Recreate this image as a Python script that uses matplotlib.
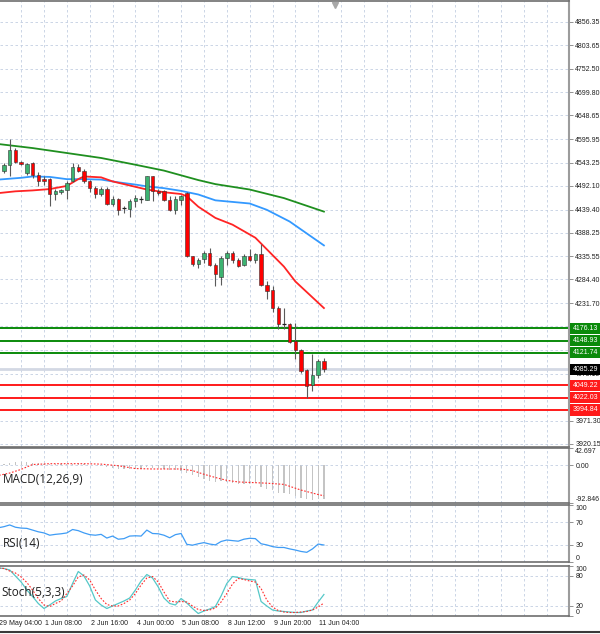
import numpy as np
import matplotlib
matplotlib.use('Agg')
import matplotlib.pyplot as plt
import matplotlib.transforms as mtrans
from matplotlib.lines import Line2D

plt.rcParams['font.family'] = 'Liberation Sans'

# 4H candles (bar 0 = first full bar on the left)
opens = [4524, 4539, 4572, 4546, 4520, 4543, 4517, 4508, 4507, 4475,
         4479, 4484, 4502, 4535, 4526, 4502, 4487, 4475, 4485, 4452,
         4463, 4443, 4441, 4458, 4464, 4461, 4513, 4481, 4480, 4461,
         4439, 4460, 4476, 4336, 4319, 4330, 4343, 4317, 4291, 4332,
         4343, 4327, 4317, 4336, 4327, 4340, 4273, 4260, 4222, 4186,
         4186, 4147, 4129, 4083, 4050, 4072, 4104]
highs = [4543, 4596, 4577, 4548, 4543, 4545, 4522, 4513, 4510, 4485,
         4486, 4502, 4543, 4541, 4529, 4506, 4491, 4490, 4490, 4469,
         4465, 4448, 4463, 4472, 4469, 4515, 4515, 4485, 4483, 4469,
         4469, 4472, 4478, 4337, 4332, 4347, 4354, 4321, 4336, 4347,
         4347, 4332, 4340, 4352, 4343, 4364, 4280, 4269, 4225, 4222,
         4187, 4188, 4131, 4085, 4118, 4108, 4110]
lows = [4521, 4513, 4543, 4539, 4517, 4510, 4491, 4495, 4448, 4461,
        4475, 4463, 4500, 4522, 4498, 4478, 4465, 4469, 4450, 4448,
        4428, 4433, 4423, 4445, 4455, 4460, 4458, 4472, 4458, 4436,
        4430, 4450, 4334, 4314, 4310, 4322, 4314, 4269, 4273, 4317,
        4322, 4312, 4315, 4325, 4322, 4269, 4240, 4212, 4174, 4174,
        4144, 4107, 4078, 4022, 4037, 4066, 4080]
closes = [4539, 4572, 4546, 4541, 4540, 4517, 4502, 4502, 4475, 4481,
          4484, 4498, 4535, 4526, 4502, 4487, 4475, 4485, 4452, 4463,
          4439, 4442, 4458, 4465, 4463, 4513, 4480, 4476, 4461, 4439,
          4463, 4470, 4336, 4319, 4328, 4343, 4317, 4297, 4332, 4343,
          4327, 4315, 4336, 4327, 4340, 4273, 4258, 4222, 4185, 4186,
          4146, 4129, 4081, 4047, 4072, 4104, 4085.29]

# moving averages (bar index, price)
ma_fast_idx = [-1, 2, 5, 8, 11, 13, 14, 17, 19, 23, 25, 28, 31, 32, 34, 37, 40, 44, 49, 51, 56]
ma_fast = [4476, 4480, 4482, 4485, 4492, 4507, 4513, 4511, 4502, 4490, 4484, 4478, 4474,
           4469, 4446, 4421, 4406, 4377, 4313, 4280, 4221]
ma_mid_idx = [-1, 3, 5, 8, 11, 14, 17, 20, 23, 25, 28, 31, 34, 37, 43, 46, 50, 56]
ma_mid = [4506, 4510, 4513, 4512, 4507, 4507, 4506, 4500, 4495, 4491, 4487, 4481, 4473,
          4460, 4453, 4439, 4413, 4360]
ma_slow_idx = [-1, 5, 11, 17, 23, 28, 34, 37, 43, 49, 56]
ma_slow = [4585, 4576, 4565, 4554, 4539, 4526, 4505, 4496, 4484, 4465, 4435]

price_ticks = [4856.35, 4803.65, 4752.50, 4699.80, 4648.65, 4595.95, 4543.25, 4492.10,
               4439.40, 4388.25, 4335.55, 4284.40, 4231.70, 4180.55, 4127.85, 4075.15,
               4024.00, 3971.30, 3920.15]
# tick labels that sit under the level boxes
hidden_ticks = [4180.55, 4127.85, 4024.00]
levels_green = [4176.13, 4148.93, 4121.74]
levels_red = [4049.22, 4022.03, 3994.84]
last_price = 4085.29

# MACD(12,26,9): main histogram per bar, signal line sampled
macd_main = [4, 6, 8, 8, 7, 6, 5, 4, 3, 3, 3, 3, 4, 5, 4, 2, 0, -1, -4, -7,
             -8, -9, -9, -8, -8, -4, -6, -7, -9, -11, -12, -13, -20, -25, -29, -33, -39, -41, -39, -41,
             -44, -45, -45, -45, -44, -54, -58, -62, -67, -69, -71, -75, -80, -84, -85, -84, -82]
macd_sig_idx = [-1, 1, 3, 5, 8, 11, 14, 17, 20, 23, 26, 29, 31, 33, 35, 37, 39, 41, 46, 49, 52, 55, 56]
macd_sig = [-25, -19, -10, 2, 4, 4, 4, 3, -1, -8, -9, -9, -9, -13, -22, -30, -37, -41, -44, -47,
            -61, -72, -75]
macd_top, macd_bot = 42.697, -92.846

# RSI(14), bars -1..56
rsi = [60, 62, 65, 61, 59.5, 59, 56, 53, 51, 47, 48.5, 49.5, 51, 57, 55, 51, 48, 47, 48.5, 42,
       45.5, 40, 41, 45.5, 46, 45.5, 56, 50, 49.5, 47, 42.5, 48, 50, 31, 29.5, 32, 34, 31.5, 30,
       36, 38.6, 37.5, 36.5, 40, 41.6, 41, 32, 30, 27, 25.5, 25.5, 23, 21, 18.5, 17, 23, 31.5, 29.8]

# Stoch(5,3,3), bars -1..56
sto_main = [96, 95, 92, 80, 68, 52, 39, 25, 15, 22, 30, 35, 39, 65, 89, 80, 60, 32, 22, 15,
            20, 25, 30, 36, 52, 70, 83, 76, 58, 36, 25, 22, 35, 26, 15, 5, 10, 14, 19, 40,
            65, 79, 77, 74, 73, 72, 29, 20, 12, 10, 9, 8, 7, 7, 10, 12, 28, 43]
sto_sig = [96, 95, 90, 86, 78, 67, 52, 35, 22, 19, 25, 30, 45, 60, 78, 82, 72, 52, 35, 23,
           20, 20, 25, 32, 45, 62, 76, 79, 68, 48, 30, 28, 29, 28, 20, 13, 11, 12, 16, 28,
           45, 64, 75, 73, 70, 68, 55, 32, 18, 11, 8, 7, 7, 8, 9, 12, 18, 26]

time_labels = ['29 May 04:00', '1 Jun 08:00', '2 Jun 16:00', '4 Jun 00:00',
               '5 Jun 08:00', '8 Jun 12:00', '9 Jun 20:00', '11 Jun 04:00']
time_label_idx = [-1, 7, 15, 23, 31, 39, 47, 55]

n = len(closes)
idx = np.arange(n)
ind_idx = np.arange(-1, n)

H = 634
W_AX = 569 / 600
fig = plt.figure(figsize=(6, 6.34), dpi=100)


def panel(top_px, bot_px):
    return fig.add_axes([0, (H - bot_px) / H, W_AX, (bot_px - top_px) / H])


ax = panel(1, 447)
ax_macd = panel(448, 503)
ax_rsi = panel(505, 562)
ax_sto = panel(566, 616)

grid_kw = dict(color='#c3cee2', linestyle=(0, (3, 3)), linewidth=0.6)
vgrid = np.arange(3, 99, 4)

for a in [ax, ax_macd, ax_rsi, ax_sto]:
    a.set_xlim(-0.7, 98.9)
    a.yaxis.tick_right()
    a.tick_params(axis='y', direction='out', length=3, width=0.6, color='#808080',
                  labelsize=5, pad=1.5, labelcolor='#202020')
    a.set_xticks(vgrid)
    a.tick_params(axis='x', which='major', length=0, labelbottom=False)
    a.grid(True, axis='both', which='major', **grid_kw)
    a.set_axisbelow(True)
    a.spines['left'].set_visible(False)
    a.spines['right'].set_color('#9c9c9c')
    a.spines['right'].set_linewidth(1.5)
    for s in ['top', 'bottom']:
        a.spines[s].set_color('#6e6e6e')
        a.spines[s].set_linewidth(1.2)

# ---- main price panel
ax.set_ylim(3912.7, 4902.3)
ax.set_yticks(price_ticks)
ax.set_yticklabels(['' if t in hidden_ticks else '%.2f' % t for t in price_ticks])

ax.axhline(last_price, color='#d3d8e4', lw=2, zorder=1)
for lv in levels_green:
    ax.axhline(lv, color='#0a8a0a', lw=1.4, zorder=2)
for lv in levels_red:
    ax.axhline(lv, color='#ff1a1a', lw=1.4, zorder=2)

ax.plot(ma_slow_idx, ma_slow, color='#1f8f1f', lw=1.3, zorder=3)
ax.plot(ma_mid_idx, ma_mid, color='#3399ff', lw=1.3, zorder=3)
ax.plot(ma_fast_idx, ma_fast, color='#ff2424', lw=1.3, zorder=3)

o = np.array(opens, float)
c = np.array(closes, float)
ax.vlines(idx, lows, highs, color='#5a5a5a', lw=0.8, zorder=4)
body_lo = np.minimum(o, c)
body_h = np.abs(c - o)
cols = np.where(c > o, '#3cb371', '#ff0000')
doji = body_h < 2
ax.bar(idx[~doji], body_h[~doji], bottom=body_lo[~doji], width=0.6,
       color=cols[~doji], edgecolor='#333333', linewidth=0.4, zorder=5)
ax.hlines(body_lo[doji], idx[doji] - 0.3, idx[doji] + 0.3, color='#222222', lw=0.9, zorder=5)

blend = mtrans.blended_transform_factory(ax.transAxes, ax.transData)
box_kw = dict(transform=blend, ha='left', va='center', fontsize=5, color='white',
              zorder=10, clip_on=False)
for lv in levels_green:
    ax.text(1.006, lv, '%.2f' % lv, bbox=dict(boxstyle='square,pad=0.3', fc='#0a8a0a', ec='none'), **box_kw)
for lv in levels_red:
    ax.text(1.006, lv, '%.2f' % lv, bbox=dict(boxstyle='square,pad=0.3', fc='#ff1a1a', ec='none'), **box_kw)
ax.text(1.006, last_price, '%.2f' % last_price,
        bbox=dict(boxstyle='square,pad=0.3', fc='black', ec='none'), **box_kw)

# chart shift marker
ax.plot([57.9], [0.99], transform=mtrans.blended_transform_factory(ax.transData, ax.transAxes),
        marker='v', color='#a8a8a8', ms=5, clip_on=False, zorder=6)

# ---- MACD
ax_macd.set_ylim(macd_bot, macd_top)
ax_macd.bar(idx, macd_main, width=0.22, color='#c4c4c4', zorder=2)
ax_macd.plot(macd_sig_idx, macd_sig, color='#ff2a2a', lw=0.8, ls=(0, (1.5, 1.5)), zorder=3)
ax_macd.set_yticks([macd_top, 0, macd_bot])
ax_macd.set_yticklabels(['42.697', '0.00', '-92.846'])
ax_macd.grid(False, axis='y')
ax_macd.axhline(0, **grid_kw)
lbl = ax_macd.get_yticklabels()
lbl[0].set_va('top')
lbl[2].set_va('bottom')
ax_macd.text(0.005, 0.42, 'MACD(12,26,9)', transform=ax_macd.transAxes, fontsize=8.5,
             family='Open Sans', color='#202020', va='center', ha='left')

# ---- RSI
ax_rsi.set_ylim(0, 100)
ax_rsi.plot(ind_idx, rsi, color='#3f9cf5', lw=0.9, zorder=3)
ax_rsi.set_yticks([100, 70, 30, 0])
ax_rsi.grid(False, axis='y')
for v in [70, 30]:
    ax_rsi.axhline(v, **grid_kw)
lbl = ax_rsi.get_yticklabels()
lbl[0].set_va('top')
lbl[3].set_va('bottom')
ax_rsi.text(0.005, 0.33, 'RSI(14)', transform=ax_rsi.transAxes, fontsize=8.5,
            family='Open Sans', color='#202020', va='center', ha='left')

# ---- Stochastic
ax_sto.set_ylim(0, 100)
ax_sto.plot(ind_idx, sto_main, color='#55c8c8', lw=0.9, zorder=3)
ax_sto.plot(ind_idx, sto_sig, color='#ff2a2a', lw=0.8, ls=(0, (1.5, 1.5)), zorder=3)
ax_sto.set_yticks([100, 80, 20, 0])
ax_sto.grid(False, axis='y')
for v in [80, 20]:
    ax_sto.axhline(v, **grid_kw)
lbl = ax_sto.get_yticklabels()
lbl[0].set_va('top')
lbl[3].set_va('bottom')
ax_sto.text(0.003, 0.48, 'Stoch(5,3,3)', transform=ax_sto.transAxes, fontsize=8.5,
            family='Open Sans', color='#202020', va='center', ha='left')

ax_sto.set_xticks(time_label_idx[1:], minor=True)
ax_sto.tick_params(axis='x', which='minor', direction='out', length=3, width=0.6, color='#404040')
tb = mtrans.blended_transform_factory(ax_sto.transData, ax_sto.transAxes)
for k, t in zip(time_label_idx, time_labels):
    ax_sto.text(k + 0.2, -0.08, t, transform=tb, fontsize=5, color='#202020',
                ha='left', va='top', clip_on=False)

fig.add_artist(Line2D([0, 1], [2.5 / H, 2.5 / H], color='#3a3a3a', lw=1.5))

fig.savefig('out.png', dpi=100)
